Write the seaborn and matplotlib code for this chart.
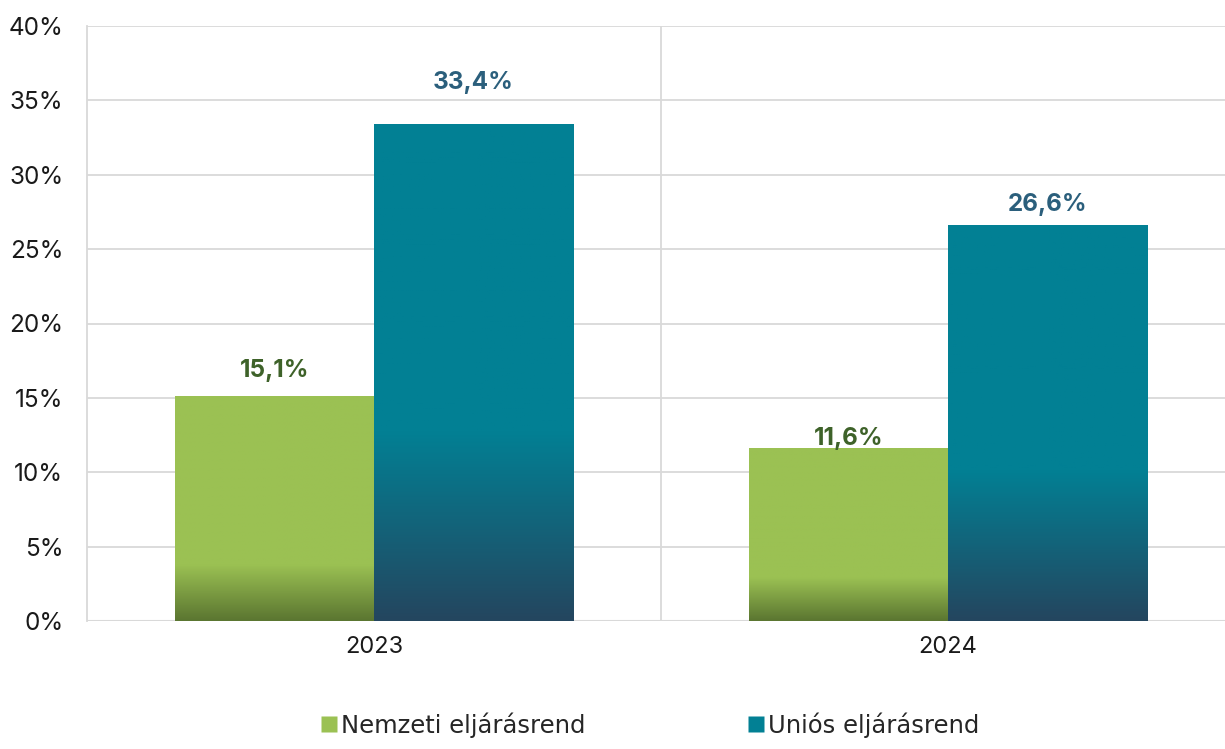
import numpy as np
import pandas as pd
import matplotlib
matplotlib.use("Agg")
import matplotlib.pyplot as plt
from matplotlib.colors import LinearSegmentedColormap
from matplotlib.lines import Line2D
import seaborn as sns

years = ["2023", "2024"]
series = ["Nemzeti eljárásrend", "Uniós eljárásrend"]
nemzeti = [15.1, 11.6]
unios = [33.4, 26.6]
yticks = [0, 5, 10, 15, 20, 25, 30, 35, 40]

df = pd.DataFrame({
    "year": years * 2,
    "series": [series[0]] * 2 + [series[1]] * 2,
    "value": nemzeti + unios,
})

top_colors = {series[0]: "#9BC153", series[1]: "#028094"}
bottom_colors = {series[0]: "#5B7631", series[1]: "#24465F"}
label_colors = {series[0]: "#3E6229", series[1]: "#2B5F7C"}
grad_frac = {series[0]: 0.25, series[1]: 0.38}
# label offsets above bar tops (as in the original, not uniform)
label_offset = {series[0]: [1.77, 0.70], series[1]: [2.77, 1.37]}

sns.set_theme(style="white")
plt.rcParams["font.family"] = ["Inter", "DejaVu Sans"]

fig = plt.figure(figsize=(12.25, 7.49), dpi=100)
ax = fig.add_axes([87 / 1225, 1 - 621 / 749, (1235 - 87) / 1225, (621 - 26) / 749])

sns.barplot(data=df, x="year", y="value", hue="series", hue_order=series,
            palette=top_colors, width=0.694, ax=ax, legend=False, saturation=1)

ax.set_ylim(0, 40)
ax.set_xlim(-0.5, 1.5)
ax.set_yticks(yticks)
ax.set_yticklabels([f"{t}%" for t in yticks], fontsize=17.5, color="#1a1a1a")
ax.tick_params(axis="x", labelsize=17, colors="#1a1a1a", pad=11, length=0)
ax.tick_params(axis="y", pad=17, length=0)
ax.set_xlabel("")
ax.set_ylabel("")
ax.yaxis.grid(True, color="#D9D9D9", linewidth=1.3)
ax.axvline(0.5, color="#D9D9D9", linewidth=1.3, zorder=0)
ax.set_axisbelow(True)
for s in ["top", "right", "bottom"]:
    ax.spines[s].set_visible(False)
ax.spines["left"].set_color("#D9D9D9")
ax.spines["left"].set_linewidth(1.3)
ax.axhline(0, color="#D9D9D9", linewidth=1.5, zorder=1)

# gradient fill for each bar
for container, name in zip(ax.containers, series):
    cmap = LinearSegmentedColormap.from_list(
        name, [bottom_colors[name], top_colors[name], top_colors[name]],
    )
    for i, bar in enumerate(container):
        x0 = bar.get_x()
        w = bar.get_width()
        h = bar.get_height()
        f = grad_frac[name]
        pos = np.linspace(0, 1, 200)
        vals = np.clip(pos / f, 0, 1) * 0.5
        vals[pos > f] = 1.0
        im = ax.imshow(vals.reshape(-1, 1), extent=[x0, x0 + w, 0, h], origin="lower",
                       aspect="auto", cmap=cmap, vmin=0, vmax=1, zorder=2)
        im.set_clip_path(bar)
        bar.set_facecolor("none")
        bar.set_edgecolor("none")
        ax.text(x0 + w / 2, h + label_offset[name][i], f"{h:.1f}%".replace(".", ","),
                ha="center", va="center", fontsize=17.5, fontweight="bold",
                color=label_colors[name], zorder=3)

ax.set_xlim(-0.5, 1.5)
ax.set_ylim(0, 40)

handles = [Line2D([0], [0], marker="s", linestyle="none", markersize=11,
                  markerfacecolor=top_colors[n], markeredgecolor="none") for n in series]
fig.legend(handles, series, loc="lower center", bbox_to_anchor=(0.529, -0.014), ncol=2,
           frameon=False, handletextpad=0.0, columnspacing=6.5, handlelength=1.0,
           prop={"family": ["Liberation Sans Narrow", "DejaVu Sans"], "size": 17.5})

fig.savefig("out.png", dpi=100)
